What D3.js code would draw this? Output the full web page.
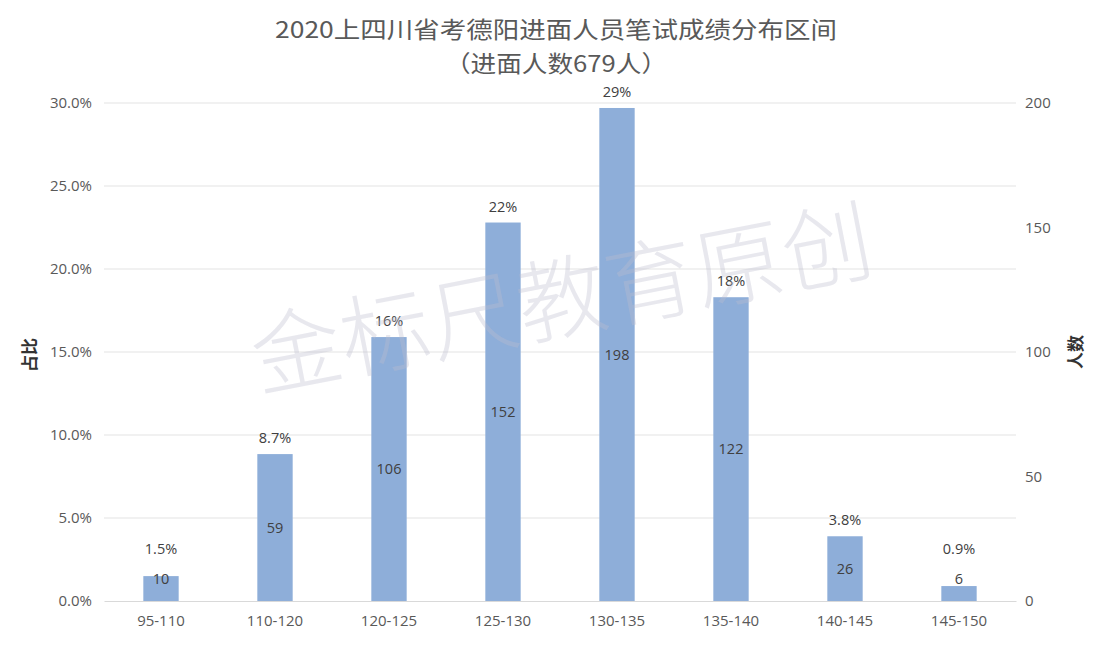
<!DOCTYPE html>
<html><head><meta charset="utf-8">
<script src="https://cdn.jsdelivr.net/npm/d3@7"></script>
<style>
html,body{margin:0;padding:0;background:#fff;}
svg{display:block;font-family:"Noto Sans CJK SC","Noto Sans",sans-serif;}
</style></head>
<body>
<svg id="chart" width="1108" height="650"></svg>
<script>
const categories = ["95-110","110-120","120-125","125-130","130-135","135-140","140-145","145-150"];
const counts = [10, 59, 106, 152, 198, 122, 26, 6];
const shareLabels = ["1.5%","8.7%","16%","22%","29%","18%","3.8%","0.9%"];
const leftTicks = [0, 0.05, 0.10, 0.15, 0.20, 0.25, 0.30];
const rightTicks = [0, 50, 100, 150, 200];
const titleLines = ["2020上四川省考德阳进面人员笔试成绩分布区间", "（进面人数679人）"];

const svg = d3.select("#chart");
const W = 1108, H = 650;
const m = {left: 104, right: 1016, top: 103, bottom: 601};

const x = d3.scaleBand().domain(categories).range([m.left, m.right]).paddingInner(0.69).paddingOuter(0.345);
const yPct = d3.scaleLinear().domain([0, 0.30]).range([m.bottom, m.top]);
const yCnt = d3.scaleLinear().domain([0, 200]).range([m.bottom, m.top]);

const textColor = "#595959";
const numFont = "'Open Sans','Noto Sans',sans-serif";

// gridlines
svg.append("g").selectAll("line").data(leftTicks.slice(1)).join("line")
  .attr("x1", m.left).attr("x2", m.right)
  .attr("y1", d => yPct(d)).attr("y2", d => yPct(d))
  .attr("stroke", "#e3e3e3").attr("stroke-width", 1);

// left axis
const la = svg.append("g").attr("transform", `translate(${m.left - 12},0)`)
  .call(d3.axisLeft(yPct).tickValues(leftTicks).tickFormat(d3.format(".1%")).tickSize(0).tickPadding(0));
la.select(".domain").remove();
la.selectAll("text").attr("fill", textColor).style("font-size", "15px").style("font-family", numFont);

// right axis
const ra = svg.append("g").attr("transform", `translate(${m.right + 9},0)`)
  .call(d3.axisRight(yCnt).tickValues(rightTicks).tickSize(0).tickPadding(0));
ra.select(".domain").remove();
ra.selectAll("text").attr("fill", textColor).style("font-size", "15px").style("font-family", numFont);

// bars
svg.append("g").selectAll("rect").data(counts).join("rect")
  .attr("x", (d, i) => x(categories[i]))
  .attr("width", x.bandwidth())
  .attr("y", d => yCnt(d))
  .attr("height", d => yCnt(0) - yCnt(d))
  .attr("fill", "#8eaed9");

// x axis
const xa = svg.append("g").attr("transform", `translate(0,${m.bottom})`)
  .call(d3.axisBottom(x).tickSize(0).tickPadding(14));
xa.select(".domain").attr("stroke", "#d9d9d9");
xa.selectAll("text").attr("fill", textColor).style("font-size", "15px").style("font-family", numFont);

// count labels
svg.append("g").selectAll("text").data(counts).join("text")
  .attr("x", (d, i) => x(categories[i]) + x.bandwidth() / 2)
  .attr("y", d => Math.min((yCnt(d) + yCnt(0)) / 2, yCnt(0) - 22))
  .attr("dy", "0.35em")
  .attr("text-anchor", "middle")
  .attr("fill", "#404040").style("font-size", "14.5px").style("font-family", numFont)
  .text(d => d);

// share labels
svg.append("g").selectAll("text").data(shareLabels).join("text")
  .attr("x", (d, i) => x(categories[i]) + x.bandwidth() / 2)
  .attr("y", (d, i) => Math.min(yCnt(counts[i]) - 16, yCnt(0) - 52))
  .attr("dy", "0.35em")
  .attr("text-anchor", "middle")
  .attr("fill", "#404040").style("font-size", "14.5px").style("font-family", numFont)
  .text(d => d);

// axis titles
svg.append("text").attr("transform", "translate(30,355) rotate(-90)")
  .attr("text-anchor", "middle").attr("dy", "0.35em")
  .attr("fill", "#333").style("font-size", "17px").style("font-weight", "bold").text("占比");
svg.append("text").attr("transform", "translate(1076,352) rotate(-90)")
  .attr("text-anchor", "middle").attr("dy", "0.35em")
  .attr("fill", "#333").style("font-size", "17px").style("font-weight", "bold").text("人数");

// title
const titleWidths = [562, 222];
svg.append("g").selectAll("text").data(titleLines).join("text")
  .attr("x", W / 2 + 2).attr("y", (d, i) => 30 + i * 34)
  .attr("dy", "0.35em").attr("text-anchor", "middle")
  .attr("textLength", (d, i) => titleWidths[i]).attr("lengthAdjust", "spacingAndGlyphs")
  .attr("fill", textColor).style("font-size", "23px")
  .text(d => d);

// watermark
svg.append("text")
  .attr("transform", "translate(562,300) rotate(-11)")
  .attr("text-anchor", "middle").attr("dy", "0.35em")
  .attr("fill", "rgba(190,190,205,0.35)")
  .style("font-size", "90px").style("font-weight", "300")
  .text("金标尺教育原创");
</script>
</body></html>
